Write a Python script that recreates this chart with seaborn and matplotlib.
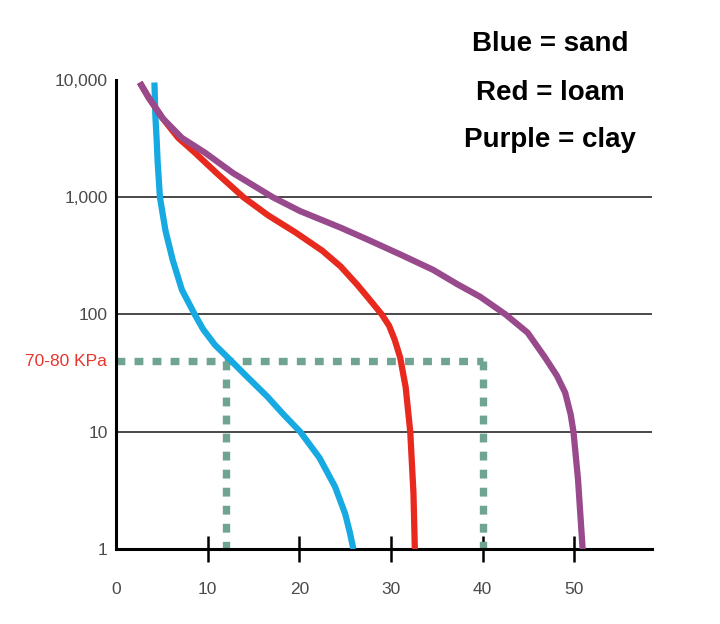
import numpy as np
import pandas as pd
import matplotlib
matplotlib.use("Agg")
import matplotlib.pyplot as plt
import seaborn as sns

# --- water retention curves (moisture %, suction KPa) ---
SAND_SUCTION = [9500, 5000, 3000, 2000, 1000, 520, 290, 162, 100, 75, 55, 43,
                30, 20, 14, 10, 6, 3.4, 2, 1.4, 1]
SAND_MOISTURE = [4.2, 4.3, 4.45, 4.55, 4.8, 5.4, 6.2, 7.2, 8.6, 9.5, 10.8, 12.2,
                 14.2, 16.5, 18.3, 20.1, 22.2, 23.9, 25.0, 25.5, 25.9]

LOAM_SUCTION = [9500, 7000, 4700, 3200, 2400, 1600, 1000, 700, 500, 350, 257,
                180, 142, 100, 80, 61, 43, 24, 10, 3, 1]
LOAM_MOISTURE = [2.6, 3.6, 5.1, 6.8, 8.6, 11.0, 13.9, 16.6, 19.6, 22.5, 24.5,
                 26.3, 27.4, 29.0, 29.8, 30.4, 31.0, 31.6, 32.1, 32.45, 32.6]

CLAY_SUCTION = [9500, 7000, 4700, 3200, 2400, 1600, 1000, 760, 550, 437, 320,
                240, 180, 142, 100, 70, 43, 30, 21.5, 14, 10, 3.9, 1]
CLAY_MOISTURE = [2.6, 3.6, 5.1, 7.2, 9.7, 12.8, 17.1, 20.1, 24.5, 27.4, 31.2,
                 34.6, 37.3, 39.7, 42.5, 44.9, 46.8, 48.1, 49.0, 49.6, 49.9, 50.4, 50.9]

# dashed reference lines
REF_SUCTION = 40
REF_MOISTURE = [12, 40]
REF_LABEL = "70-80 KPa"

Y_TICKS = [1, 10, 100, 1000, 10000]
Y_TICK_LABELS = ["1", "10", "100", "1,000", "10,000"]
X_TICKS = [0, 10, 20, 30, 40, 50]
GRID_LEVELS = [10, 100, 1000]

LEGEND_LINES = ["Blue = sand", "Red = loam", "Purple = clay"]

COLORS = {"sand": "#17a9e1", "loam": "#e8291e", "clay": "#984a8c"}
DASH_COLOR = "#6fa392"

sns.set_style("white")
plt.rcParams["font.family"] = ["Liberation Sans", "DejaVu Sans"]

df = pd.concat([
    pd.DataFrame({"soil": "sand", "moisture": SAND_MOISTURE, "suction": SAND_SUCTION}),
    pd.DataFrame({"soil": "loam", "moisture": LOAM_MOISTURE, "suction": LOAM_SUCTION}),
    pd.DataFrame({"soil": "clay", "moisture": CLAY_MOISTURE, "suction": CLAY_SUCTION}),
])

fig = plt.figure(figsize=(7.2, 6.24), dpi=100)
ax = fig.add_axes([0.161, 0.120, 0.745, 0.752])

# horizontal grid lines
for lvl in GRID_LEVELS:
    ax.axhline(lvl, color="#3a3a3a", lw=1.3, zorder=1)

# dashed reference lines
dash = dict(color=DASH_COLOR, lw=5.3, linestyle=(0, (1.2, 1.25)),
            dash_capstyle="butt", zorder=2)
ax.plot([0, REF_MOISTURE[1]], [REF_SUCTION, REF_SUCTION], **dash)
for xm in REF_MOISTURE:
    ax.plot([xm, xm], [REF_SUCTION, 1], **dash)

sns.lineplot(data=df, x="moisture", y="suction", hue="soil", palette=COLORS,
             sort=False, estimator=None, lw=4.5, legend=False, ax=ax, zorder=3,
             solid_joinstyle="round", solid_capstyle="butt")

ax.set_yscale("log")
ax.set_ylim(1, 10000)
ax.set_xlim(0, 58.5)

ax.set_yticks(Y_TICKS)
ax.set_yticklabels(Y_TICK_LABELS)
ax.minorticks_off()
ax.set_xticks(X_TICKS)
ax.set_xticklabels([str(t) for t in X_TICKS])
ax.tick_params(axis="y", left=False, length=0, pad=6, labelsize=12.5,
               labelcolor="#4a4a4a")
ax.tick_params(axis="x", bottom=True, direction="inout", length=19, width=1.8,
               color="black", pad=14.5, labelsize=12.5, labelcolor="#4a4a4a")
ax.xaxis.get_major_ticks()[0].tick1line.set_visible(False)

ax.set_xlabel("")
ax.set_ylabel("")
for side in ["top", "right"]:
    ax.spines[side].set_visible(False)
for side in ["left", "bottom"]:
    ax.spines[side].set_color("black")
    ax.spines[side].set_linewidth(2.2)

# label for the dashed level
ax.text(-0.017, REF_SUCTION, REF_LABEL, transform=ax.get_yaxis_transform(),
        ha="right", va="center", color="#e8352e", fontsize=12.5)

# text legend
for txt, yb in zip(LEGEND_LINES, [0.918, 0.840, 0.764]):
    fig.text(0.764, yb, txt, ha="center", va="baseline",
             fontsize=20, fontweight="bold", color="black")

fig.savefig("out.png", dpi=100)
